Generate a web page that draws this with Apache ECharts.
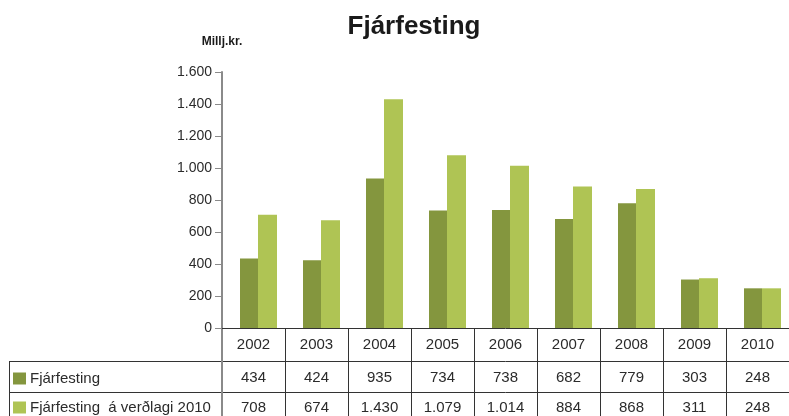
<!DOCTYPE html>
<html>
<head>
<meta charset="utf-8">
<script src="https://cdn.jsdelivr.net/npm/echarts@6/dist/echarts.min.js"></script>
<style>html,body{margin:0;padding:0;background:#fff;}#c{width:789px;height:416px;}</style>
</head>
<body>
<div id="c"></div>
<script>
var years = ['2002','2003','2004','2005','2006','2007','2008','2009','2010'];
var fjarfesting = [434, 424, 935, 734, 738, 682, 779, 303, 248];
var fjarfestingVerdlag = [708, 674, 1430, 1079, 1014, 884, 868, 311, 248];
var seriesNames = ['Fjárfesting', 'Fjárfesting  á verðlagi 2010'];
var yTicks = [0, 200, 400, 600, 800, 1000, 1200, 1400, 1600];

function fmt(v) {
  v = Number(v);
  if (v >= 1000) { var r = v % 1000; return Math.floor(v / 1000) + '.' + (r < 10 ? '00' : r < 100 ? '0' : '') + r; }
  return String(v);
}

var FONT = "'Liberation Sans', Arial, Helvetica, sans-serif";
var TXT = '#2b2b2b';
var LINE = '#333333';
var AXIS = '#8a8a8a';
var DARK = '#84963e';
var LIGHT = '#afc454';

var chart = echarts.init(document.getElementById('c'), null, {renderer: 'canvas'});

function tableAxis(data, offset, tickLen, margin) {
  return {
    type: 'category', gridIndex: 0, position: 'bottom', offset: offset,
    data: data,
    boundaryGap: true,
    axisLine: {show: true, lineStyle: {color: LINE, width: 1}},
    axisTick: {show: true, alignWithLabel: false, inside: false, length: tickLen, lineStyle: {color: LINE, width: 1}},
    axisLabel: {show: true, interval: 0, margin: margin, fontSize: 15, color: TXT, fontFamily: FONT},
    splitLine: {show: false}
  };
}

chart.setOption({
  animation: false,
  textStyle: {fontFamily: FONT},
  title: {
    text: 'Fjárfesting', left: 409, top: 9, textAlign: 'center',
    textStyle: {fontSize: 26, fontWeight: 'bold', color: '#1a1a1a', fontFamily: FONT}
  },
  legend: {
    data: seriesNames, orient: 'vertical', left: 13, top: 371, padding: 0,
    itemWidth: 13, itemHeight: 12, itemGap: 14, icon: 'rect',
    textStyle: {fontSize: 15, color: TXT, fontFamily: FONT, padding: [0, 0, 0, -1]},
    selectedMode: false
  },
  grid: {left: 222, top: 72, width: 571, height: 256, containLabel: false},
  xAxis: [
    tableAxis(years, 0, 33, 9),
    tableAxis(fjarfesting.map(fmt), 33, 31, 9),
    tableAxis(fjarfestingVerdlag.map(fmt), 64, 30, 8)
  ],
  yAxis: {
    type: 'value', min: 0, max: 1600, interval: 200,
    name: 'Millj.kr.', nameLocation: 'end', nameGap: 24,
    nameTextStyle: {fontSize: 12, fontWeight: 'bold', color: '#1a1a1a', fontFamily: FONT, align: 'center'},
    axisLine: {show: true, lineStyle: {color: AXIS, width: 2}},
    axisTick: {show: true, length: 7, lineStyle: {color: AXIS, width: 1}},
    axisLabel: {margin: 10, fontSize: 14, color: TXT, fontFamily: FONT,
      formatter: function (v) { return yTicks.indexOf(v) >= 0 ? fmt(v) : ''; }},
    splitLine: {show: false}
  },
  graphic: [
    {type: 'line', shape: {x1: 9, y1: 361.5, x2: 222, y2: 361.5}, style: {stroke: LINE, lineWidth: 1}},
    {type: 'line', shape: {x1: 9, y1: 392.5, x2: 222, y2: 392.5}, style: {stroke: LINE, lineWidth: 1}},
    {type: 'line', shape: {x1: 9.5, y1: 361, x2: 9.5, y2: 416}, style: {stroke: LINE, lineWidth: 1}},
    {type: 'line', z: 100, shape: {x1: 222, y1: 329, x2: 222, y2: 416}, style: {stroke: AXIS, lineWidth: 2}}
  ],
  series: [
    {name: '', type: 'bar', xAxisIndex: 0, barWidth: 10, data: years.map(function(){return '-';}),
      itemStyle: {color: 'rgba(0,0,0,0)'}, silent: true},
    {name: seriesNames[0], type: 'bar', xAxisIndex: 0, barWidth: 18, barGap: 0, data: fjarfesting,
      itemStyle: {color: DARK}},
    {name: seriesNames[1], type: 'bar', xAxisIndex: 0, barWidth: 19, barGap: 0, data: fjarfestingVerdlag,
      itemStyle: {color: LIGHT}}
  ]
});
</script>
</body>
</html>
